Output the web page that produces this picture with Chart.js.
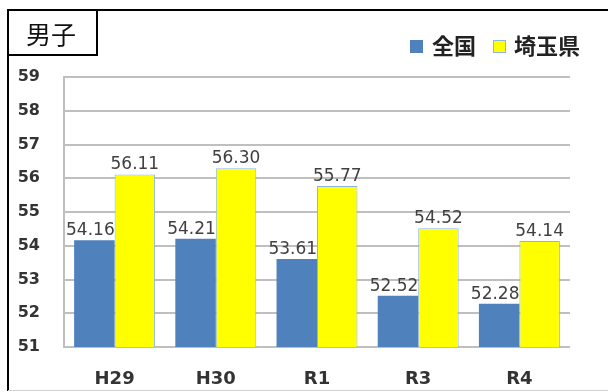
<!DOCTYPE html>
<html>
<head>
<meta charset="utf-8">
<script src="https://cdn.jsdelivr.net/npm/chart.js@4"></script>
<style>
  html, body { margin: 0; padding: 0; background: #fff; }
  #wrap { position: relative; width: 608px; height: 392px; }
</style>
</head>
<body>
<div id="wrap"><canvas id="boysChart" width="608" height="392"></canvas></div>
<script>
// 男子 — 全国 vs 埼玉県
const categories = ['H29', 'H30', 'R1', 'R3', 'R4'];
const zenkoku = [54.16, 54.21, 53.61, 52.52, 52.28];
const saitama = [56.11, 56.30, 55.77, 54.52, 54.14];
const yTicks = [51, 52, 53, 54, 55, 56, 57, 58, 59];

const NUM_FONT = "'DejaVu Sans', sans-serif";
const JP_FONT = "'Noto Sans CJK JP', sans-serif";

// frame, title box and legend drawn straight on the canvas
const framePlugin = {
  id: 'frame',
  afterDraw(chart) {
    const c = chart.ctx;
    c.save();
    c.strokeStyle = '#000';
    c.lineWidth = 2;
    c.beginPath();
    c.moveTo(8, 391);
    c.lineTo(8, 10);
    c.lineTo(608, 10);
    c.stroke();
    c.strokeRect(8, 10, 89, 45);
    c.strokeStyle = '#d0d0d0';
    c.lineWidth = 1;
    c.beginPath();
    c.moveTo(8, 390.5);
    c.lineTo(608, 390.5);
    c.stroke();

    c.fillStyle = '#111';
    c.font = '25px ' + JP_FONT;
    c.textAlign = 'center';
    c.textBaseline = 'middle';
    c.fillText('男子', 51, 34);

    // legend
    c.font = 'bold 22px ' + JP_FONT;
    c.textAlign = 'left';
    c.fillStyle = '#4F81BD';
    c.fillRect(410, 40, 13, 13);
    c.fillStyle = '#FFFF00';
    c.fillRect(493, 40, 13, 13);
    c.strokeStyle = '#8EB4E3';
    c.strokeRect(493.5, 40.5, 12, 12);
    c.fillStyle = '#222';
    c.fillText('全国', 432, 46);
    c.fillText('埼玉県', 514, 46);
    c.restore();
  }
};

// value labels above each bar
const valueLabels = {
  id: 'valueLabels',
  afterDatasetsDraw(chart) {
    const c = chart.ctx;
    c.save();
    c.font = '17px ' + NUM_FONT;
    c.fillStyle = '#404040';
    c.textAlign = 'center';
    c.textBaseline = 'bottom';
    chart.data.datasets.forEach((ds, i) => {
      chart.getDatasetMeta(i).data.forEach((bar, j) => {
        c.fillText(ds.data[j].toFixed(2), bar.x - (i === 0 ? 4 : 0), bar.y - 1);
      });
    });
    c.restore();
  }
};

new Chart(document.getElementById('boysChart'), {
  type: 'bar',
  data: {
    labels: categories,
    datasets: [{
      label: '全国',
      data: zenkoku,
      backgroundColor: '#4F81BD',
      borderWidth: 0
    }, {
      label: '埼玉県',
      data: saitama,
      backgroundColor: '#FFFF00',
      borderColor: '#8EB4E3',
      borderWidth: 1
    }]
  },
  options: {
    responsive: false,
    animation: false,
    events: [],
    categoryPercentage: 0.8,
    barPercentage: 1.0,
    layout: { padding: { top: 77, left: 10, right: 38, bottom: 8 } },
    plugins: {
      legend: { display: false },
      tooltip: { enabled: false }
    },
    scales: {
      x: {
        grid: { display: false },
        border: { display: false },
        ticks: {
          color: '#333',
          padding: 14,
          font: { family: NUM_FONT, size: 18, weight: 'bold' }
        },
        afterFit: s => { s.height = 37; }
      },
      y: {
        min: yTicks[0],
        max: yTicks[yTicks.length - 1],
        afterBuildTicks: s => { s.ticks = yTicks.map(v => ({ value: v })); },
        grid: { color: '#BFBFBF', lineWidth: 2, drawTicks: false },
        border: { display: true, color: '#BFBFBF', width: 2 },
        ticks: {
          color: '#333',
          padding: 24,
          font: { family: NUM_FONT, size: 16, weight: 'bold' }
        },
        afterFit: s => { s.width = 54; }
      }
    }
  },
  plugins: [framePlugin, valueLabels]
});
</script>
</body>
</html>
